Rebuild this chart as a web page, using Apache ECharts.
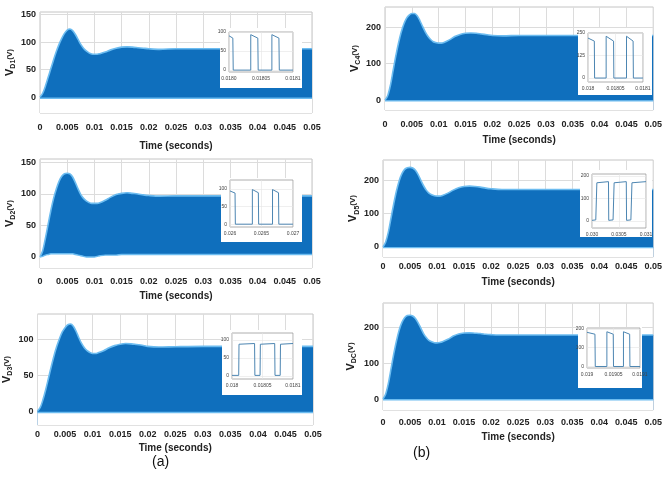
<!DOCTYPE html>
<html>
<head>
<meta charset="utf-8">
<script src="https://cdn.jsdelivr.net/npm/echarts@6/dist/echarts.min.js"></script>
<style>
html, body { margin: 0; padding: 0; background: #fff; }
#container { width: 665px; height: 477px; }
</style>
</head>
<body>
<div id="container"></div>
<script>
// shared time base (seconds)
var timeS = [0, 0.0005, 0.001, 0.0015, 0.002, 0.0025, 0.003, 0.0035, 0.004, 0.0045,
  0.005, 0.0055, 0.006, 0.0065, 0.007, 0.0075, 0.008, 0.0085, 0.009, 0.0095,
  0.01, 0.0105, 0.011, 0.012, 0.013, 0.014, 0.015, 0.016, 0.017, 0.018,
  0.019, 0.02, 0.022, 0.025, 0.03, 0.035, 0.04, 0.045, 0.05];

// upper envelope of the switching voltage (V)
var envD1 = [0, 7, 20, 36, 52, 68, 83, 96, 107, 116, 122, 124, 121, 114, 105, 96, 89, 84, 80.5, 78.5,
  78, 78, 79, 82, 86, 89, 91, 91.5, 91, 90, 89, 88, 87, 88, 88, 88, 88, 88, 88];
var envD2 = [0, 10, 30, 52, 74, 93, 108, 120, 128, 132, 133, 132, 127, 118, 108, 99, 93, 89, 86.5, 85,
  85, 85, 86, 90, 95, 99, 101, 102, 101, 100, 98.5, 97.5, 96.5, 97, 97, 97, 97, 97, 97];
var envD3 = [0, 5, 16, 30, 46, 62, 77, 90, 101, 110, 116, 120, 121, 118, 111, 102, 94, 88, 84, 81.5,
  80, 80, 81, 84, 88, 91, 93, 94, 93.5, 92.5, 91.5, 90, 89, 89.5, 90, 90, 90, 90, 90];
var envC4 = [0, 12, 40, 80, 120, 155, 185, 208, 224, 233, 237, 237, 231, 218, 202, 187, 175, 166, 160, 157.5,
  156, 156, 158, 165, 174, 180, 183, 184, 183, 181, 179, 177, 176, 177, 177, 177, 177, 177, 177];
var envD5 = [0, 15, 45, 88, 130, 168, 198, 219, 232, 237, 238, 236, 229, 216, 199, 183, 170, 161, 156, 153,
  152, 152, 154, 161, 170, 177, 181, 182, 181, 179, 176, 174, 172, 172, 172, 172, 172, 172, 172];
var envDC = [0, 14, 44, 85, 126, 162, 192, 213, 226, 232, 233, 231, 224, 212, 197, 182, 171, 163, 159, 156.5,
  156, 157, 159, 166, 175, 181, 183.5, 184, 183, 182, 180, 179, 178, 178, 178, 178, 178, 178, 178];

// lower envelope (V)
var lowD1 = [-2, -2, -2, -2, -2, -2, -2, -2, -2, -2, -2, -2, -2, -2, -2, -2, -2, -2, -2, -2,
  -2, -2, -2, -2, -2, -2, -2, -2, -2, -2, -2, -2, -2, -2, -2, -2, -2, -2, -2];
var lowD2 = [0, 1, 3, 4, 5, 5, 5, 5, 5, 5, 5, 5, 5, 4, 3, 2, 1, 0, 0, 0,
  0, 1, 2, 3, 3, 3, 4, 4, 4, 4, 4, 4, 4, 4, 4, 4, 4, 4, 4];
var lowD3 = lowD1, lowC4 = lowD1, lowD5 = lowD1, lowDC = lowD1;

// zoomed insets: x in percent of the zoom window, y in volts
var insetD1X = [0, 6, 6.6, 34, 34, 35, 45, 45.6, 67, 67, 68, 78, 78.6, 100];
var insetD1Y = [90, 84, 0, 0, 93, 90, 84, 0, 0, 93, 90, 84, 0, 0];
var insetD2X = [0, 8, 8.5, 35.5, 35.5, 36.5, 45, 45.5, 67.5, 67.5, 68.5, 77, 77.5, 100];
var insetD2Y = [94, 88, 0, 0, 98, 95, 89, 0, 0, 98, 95, 89, 0, 0];
var insetD3X = [0, 11, 11.5, 12.5, 37, 37.5, 46, 46.5, 47.5, 70, 70.5, 79, 79.5, 80.5, 100];
var insetD3Y = [2, 2, 88, 93, 90, 2, 2, 88, 93, 90, 2, 2, 88, 93, 90];
var insetC4X = [0, 11.5, 12, 33, 33, 34, 46.5, 47, 70, 70, 71, 82, 82.5, 100];
var insetC4Y = [222, 205, 0, 0, 232, 222, 205, 0, 0, 232, 222, 205, 0, 0];
var insetD5X = [0, 7, 8.5, 9, 10, 30.5, 31, 39, 40.5, 41, 42, 63.5, 64, 72, 73.5, 74, 75, 100];
var insetD5Y = [3, 5, 12, 170, 176, 175, 3, 5, 12, 170, 176, 175, 3, 5, 12, 170, 176, 175];
var insetDCX = [0, 15, 15.6, 37.5, 37.5, 38.5, 49.5, 50, 68.8, 68.8, 69.8, 80.5, 81, 100];
var insetDCY = [182, 172, 0, 0, 185, 180, 172, 0, 0, 185, 180, 172, 0, 0];

var insetD1Labels = ['0.0180', '0.01805', '0.0181'];
var insetD2Labels = ['0.026', '0.0265', '0.027'];
var insetD3Labels = ['0.018', '0.01805', '0.0181'];
var insetC4Labels = ['0.018', '0.01805', '0.0181'];
var insetD5Labels = ['0.030', '0.0305', '0.031'];
var insetDCLabels = ['0.019', '0.01905', '0.0191'];

var fillColor = '#0f6fbd';
var edgeColor = '#6cbcf0';
var waveColor = '#4d86b2';
var textColor = '#222';
var font = "'Liberation Sans', Arial, sans-serif";

var panels = [
  {sub: 'D1', env: envD1, low: lowD1, yMin: -29, yMax: 155, yTicks: [0, 50, 100, 150],
   grid: {left: 40, top: 12, width: 272, height: 101}, lblMargin: 10, nameGap: 28, yNameGap: 23,
   ix: insetD1X, iy: insetD1Y, ilabels: insetD1Labels, iMin: -5, iMax: 100, iTicks: [0, 50, 100],
   bg: [220, 28, 82, 60], box: {left: 229, top: 32, width: 64, height: 40}},
  {sub: 'D2', env: envD2, low: lowD2, yMin: -17.5, yMax: 155.5, yTicks: [0, 50, 100, 150],
   grid: {left: 40, top: 159, width: 272, height: 109}, lblMargin: 9, nameGap: 23, yNameGap: 23,
   ix: insetD2X, iy: insetD2Y, ilabels: insetD2Labels, iMin: -8, iMax: 125, iTicks: [0, 50, 100],
   bg: [221, 178, 81, 64], box: {left: 230, top: 180, width: 63, height: 47}},
  {sub: 'D3', env: envD3, low: lowD3, yMin: -19.4, yMax: 135, yTicks: [0, 50, 100],
   grid: {left: 37, top: 314, width: 276, height: 111}, lblMargin: 5, nameGap: 18, yNameGap: 24,
   ix: insetD3X, iy: insetD3Y, ilabels: insetD3Labels, iMin: -8, iMax: 119, iTicks: [0, 50, 100],
   bg: [222, 330, 80, 65], box: {left: 232, top: 333, width: 61, height: 46}},
  {sub: 'C4', env: envC4, low: lowC4, yMin: -27, yMax: 255, yTicks: [0, 100, 200],
   grid: {left: 385, top: 7, width: 277, height: 103}, lblMargin: 10, nameGap: 25, yNameGap: 23,
   ix: insetC4X, iy: insetC4Y, ilabels: insetC4Labels, iMin: -22, iMax: 250, iTicks: [0, 125, 250],
   bg: [578, 28, 74, 67], box: {left: 588, top: 33, width: 55, height: 49}},
  {sub: 'D5', env: envD5, low: lowD5, yMin: -30, yMax: 260, yTicks: [0, 100, 200],
   grid: {left: 383, top: 160, width: 277, height: 97}, lblMargin: 5, nameGap: 20, yNameGap: 20,
   ix: insetD5X, iy: insetD5Y, ilabels: insetD5Labels, iMin: -31, iMax: 209, iTicks: [0, 100, 200],
   bg: [580, 170, 72, 67], box: {left: 592, top: 174, width: 54, height: 54}},
  {sub: 'DC', env: envDC, low: lowDC, yMin: -30.5, yMax: 267, yTicks: [0, 100, 200],
   grid: {left: 383, top: 303, width: 277, height: 107}, lblMargin: 8, nameGap: 22, yNameGap: 25,
   ix: insetDCX, iy: insetDCY, ilabels: insetDCLabels, iMin: -8, iMax: 205, iTicks: [0, 100, 200],
   bg: [578, 327, 64, 61], box: {left: 587, top: 328, width: 53, height: 40}}
];

var n = panels.length;
var grids = [], xAxes = [], yAxes = [], series = [], graphics = [];
var insetGrids = [], insetX = [], insetY = [];

panels.forEach(function (p, i) {
  var g = p.grid;
  grids.push({left: g.left, top: g.top, width: g.width, height: g.height,
    show: true, borderColor: '#c4c4c4', borderWidth: 1, backgroundColor: '#fff'});
  xAxes.push({
    type: 'value', gridIndex: i, min: 0, max: 0.05, interval: 0.005,
    name: 'Time (seconds)', nameLocation: 'middle', nameGap: p.nameGap,
    nameTextStyle: {fontSize: 10, fontWeight: 'bold', color: textColor, fontFamily: font},
    axisLine: {show: false}, axisTick: {show: false},
    axisLabel: {fontSize: 9, fontWeight: 'bold', color: textColor, fontFamily: font, margin: p.lblMargin,
      formatter: function (v) { return String(+v.toFixed(3)); }},
    splitLine: {show: true, lineStyle: {color: '#dcdcdc', width: 1}}
  });
  yAxes.push({
    type: 'value', gridIndex: i, min: p.yMin, max: p.yMax,
    name: '{v|V}{s|' + p.sub + '}{u|(V)}', nameLocation: 'middle', nameGap: p.yNameGap,
    nameTextStyle: {color: textColor, fontFamily: font,
      rich: {
        v: {fontSize: 11, fontWeight: 'bold', lineHeight: 14, fontFamily: font, color: textColor},
        s: {fontSize: 7, fontWeight: 'bold', lineHeight: 14, verticalAlign: 'bottom', fontFamily: font, color: textColor},
        u: {fontSize: 8, fontWeight: 'bold', lineHeight: 14, fontFamily: font, color: textColor}
      }},
    axisLine: {show: false},
    axisTick: {show: false, customValues: p.yTicks},
    axisLabel: {fontSize: 9, fontWeight: 'bold', color: textColor, fontFamily: font, margin: 4,
      customValues: p.yTicks},
    splitLine: {show: true, lineStyle: {color: '#dcdcdc'}}
  });

  // blue band: upper envelope filled down to the axis floor, then the floor
  // under the lower envelope painted back to white
  series.push({
    type: 'line', xAxisIndex: i, yAxisIndex: i,
    data: timeS.map(function (t, k) { return [t, p.env[k]]; }),
    symbol: 'none', smooth: 0.3, lineStyle: {color: edgeColor, width: 1.6},
    areaStyle: {color: fillColor, opacity: 1, origin: 'start'}, z: 2
  });
  series.push({
    type: 'line', xAxisIndex: i, yAxisIndex: i,
    data: timeS.map(function (t, k) { return [t, p.low[k]]; }),
    symbol: 'none', smooth: 0.3, lineStyle: {color: edgeColor, width: 1.4},
    areaStyle: {color: '#fff', opacity: 1, origin: 'start'}, z: 3
  });

  // inset (white panel + zoomed square wave)
  graphics.push({
    type: 'rect', z: 10, silent: true,
    shape: {x: p.bg[0], y: p.bg[1], width: p.bg[2], height: p.bg[3]},
    style: {fill: '#fff', stroke: null}
  });
  var j = n + i;
  var b = p.box;
  insetGrids.push({left: b.left, top: b.top, width: b.width, height: b.height, z: 11,
    show: true, borderColor: '#9a9a9a', borderWidth: 0.8, backgroundColor: '#fff'});
  var labels = p.ilabels;
  insetX.push({
    type: 'value', gridIndex: j, min: 0, max: 100, z: 12,
    axisLine: {show: false}, axisTick: {show: false, customValues: [0, 50, 100]},
    axisLabel: {fontSize: 5, color: '#444', fontFamily: font, margin: 4, customValues: [0, 50, 100],
      formatter: function (v) { return labels[Math.round(v / 50)]; }},
    splitLine: {show: true, lineStyle: {color: '#e4e4e4', width: 0.6}}
  });
  insetY.push({
    type: 'value', gridIndex: j, min: p.iMin, max: p.iMax, z: 12,
    axisLine: {show: false}, axisTick: {show: false, customValues: p.iTicks},
    axisLabel: {fontSize: 5, color: '#444', fontFamily: font, margin: 3, customValues: p.iTicks},
    splitLine: {show: true, lineStyle: {color: '#e4e4e4', width: 0.6}}
  });
  series.push({
    type: 'line', xAxisIndex: j, yAxisIndex: j, z: 12,
    data: p.ix.map(function (x, k) { return [x, p.iy[k]]; }),
    symbol: 'none', lineStyle: {color: waveColor, width: 1}
  });
});

graphics.push({type: 'text', left: 152, top: 455, z: 20,
  style: {text: '(a)', fontSize: 14, fill: '#111', fontFamily: font}});
graphics.push({type: 'text', left: 413, top: 446, z: 20,
  style: {text: '(b)', fontSize: 14, fill: '#111', fontFamily: font}});

var myChart = echarts.init(document.getElementById('container'));
myChart.setOption({
  animation: false,
  backgroundColor: '#fff',
  grid: grids.concat(insetGrids),
  xAxis: xAxes.concat(insetX),
  yAxis: yAxes.concat(insetY),
  series: series,
  graphic: graphics
});
</script>
</body>
</html>
